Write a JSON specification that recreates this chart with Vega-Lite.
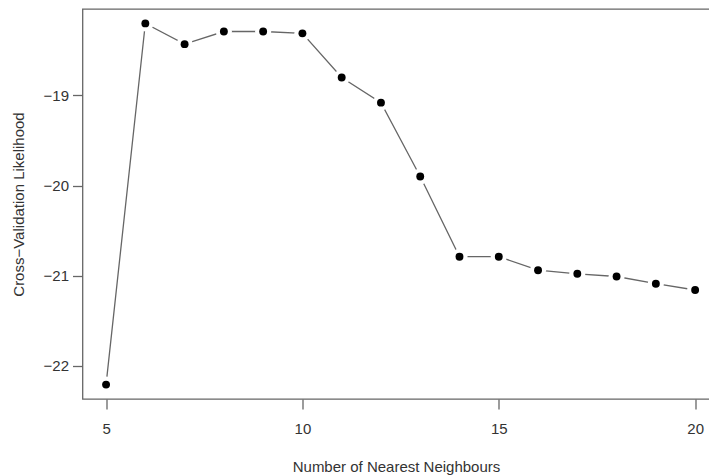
{
  "$schema": "https://vega.github.io/schema/vega-lite/v6.json",
  "width": 627,
  "height": 390,
  "autosize": {"type": "none"},
  "padding": {"left": 82.5, "top": 9, "right": 0, "bottom": 76},
  "background": "white",
  "data": {
    "values": [
      {"k": 5, "cv": -22.21},
      {"k": 6, "cv": -18.2},
      {"k": 7, "cv": -18.43},
      {"k": 8, "cv": -18.29},
      {"k": 9, "cv": -18.29},
      {"k": 10, "cv": -18.31},
      {"k": 11, "cv": -18.8},
      {"k": 12, "cv": -19.08},
      {"k": 13, "cv": -19.9},
      {"k": 14, "cv": -20.79},
      {"k": 15, "cv": -20.79},
      {"k": 16, "cv": -20.94},
      {"k": 17, "cv": -20.98},
      {"k": 18, "cv": -21.01},
      {"k": 19, "cv": -21.09},
      {"k": 20, "cv": -21.16}
    ]
  },
  "encoding": {
    "x": {
      "field": "k",
      "type": "quantitative",
      "title": "Number of Nearest Neighbours",
      "scale": {"domain": [4.4, 20.366], "nice": false, "zero": false},
      "axis": {"values": [5, 10, 15, 20], "titlePadding": 23, "labelPadding": 12}
    },
    "y": {
      "field": "cv",
      "type": "quantitative",
      "title": "Cross\u2212Validation Likelihood",
      "scale": {"domain": [-22.37, -18.04], "nice": false, "zero": false},
      "axis": {"values": [-22, -21, -20, -19], "titlePadding": 17, "labelPadding": 4}
    }
  },
  "layer": [
    {"mark": {"type": "line", "color": "#666666", "strokeWidth": 1.3}},
    {"mark": {"type": "point", "filled": true, "color": "white", "opacity": 1, "size": 260}},
    {"mark": {"type": "point", "filled": true, "color": "black", "opacity": 1, "size": 62}}
  ],
  "config": {
    "view": {"stroke": "#666666", "strokeWidth": 1.3},
    "axis": {
      "domain": false,
      "grid": false,
      "tickColor": "#666666",
      "tickWidth": 1.3,
      "tickSize": 10,
      "labelFont": "Liberation Sans",
      "labelFontSize": 15,
      "labelColor": "#333333",
      "titleFont": "Liberation Sans",
      "titleFontSize": 15,
      "titleFontWeight": "normal",
      "titleColor": "#333333"
    }
  }
}
